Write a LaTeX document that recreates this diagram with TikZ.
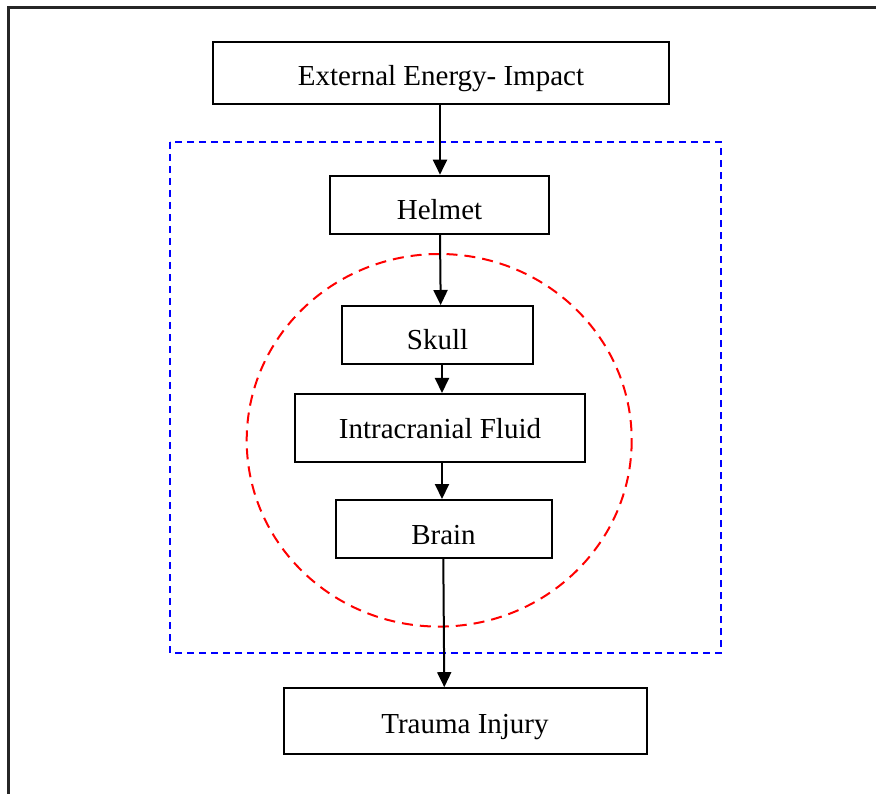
\documentclass[tikz,border=0pt]{standalone}
\usepackage{fontspec}
\setmainfont{Liberation Serif}
\usetikzlibrary{arrows.meta}
\begin{document}
\begin{tikzpicture}[x=1pt,y=-1pt,
  box/.style={draw=black, line width=2pt, fill=white, inner sep=0pt, text depth=0pt,
    font=\fontsize{29}{34}\selectfont},
  arr/.style={draw=black, line width=2pt, -{Triangle[length=15pt,width=14pt]}},
  bluebox/.style={draw=blue, line width=2pt, dash pattern=on 7pt off 5pt},
  redring/.style={draw=red, line width=2pt, dash pattern=on 11pt off 7pt}]
\useasboundingbox (0,0) rectangle (876,794);
\clip (0,0) rectangle (876,794);
\fill[white] (0,0) rectangle (876,794);
% outer frame (runs past right and bottom edges)
\draw[line width=2.5pt, black!85] (8.5,7.5) rectangle (900,820);
% groups
\draw[bluebox] (170,142) rectangle (721,653);
\draw[redring] (439.2,440.3) ellipse [x radius=192.5, y radius=186.3];
% nodes
\node[box, minimum width=456pt, minimum height=62pt, text height=26pt] (ext) at (441,73) {External Energy- Impact};
\node[box, minimum width=219pt, minimum height=58pt, text height=30pt, fill=none] (helmet) at (439.5,204.7) {Helmet};
\node[box, minimum width=191pt, minimum height=58pt, text height=30pt] (skull) at (437.5,335) {Skull};
\node[box, minimum width=290pt, minimum height=68pt, text height=20pt] (fluid) at (440,428) {Intracranial Fluid};
\node[box, minimum width=216pt, minimum height=58pt, text height=30pt] (brain) at (443.5,529) {Brain};
\node[box, minimum width=363pt, minimum height=66pt, text height=24pt] (trauma) at (465,721.2) {Trauma Injury};
% connectors
\draw[arr] ([xshift=-1pt]ext.south) -- ([xshift=0.5pt]helmet.north);
\draw[arr] ([xshift=0.5pt]helmet.south) -- ([xshift=3.2pt]skull.north);
\draw[arr] ([xshift=4.5pt]skull.south) -- ([xshift=2pt]fluid.north);
\draw[arr] ([xshift=2pt]fluid.south) -- ([xshift=-1.5pt]brain.north);
\draw[arr] ([xshift=-0.2pt]brain.south) -- ([xshift=-20.7pt]trauma.north);
\end{tikzpicture}
\end{document}
